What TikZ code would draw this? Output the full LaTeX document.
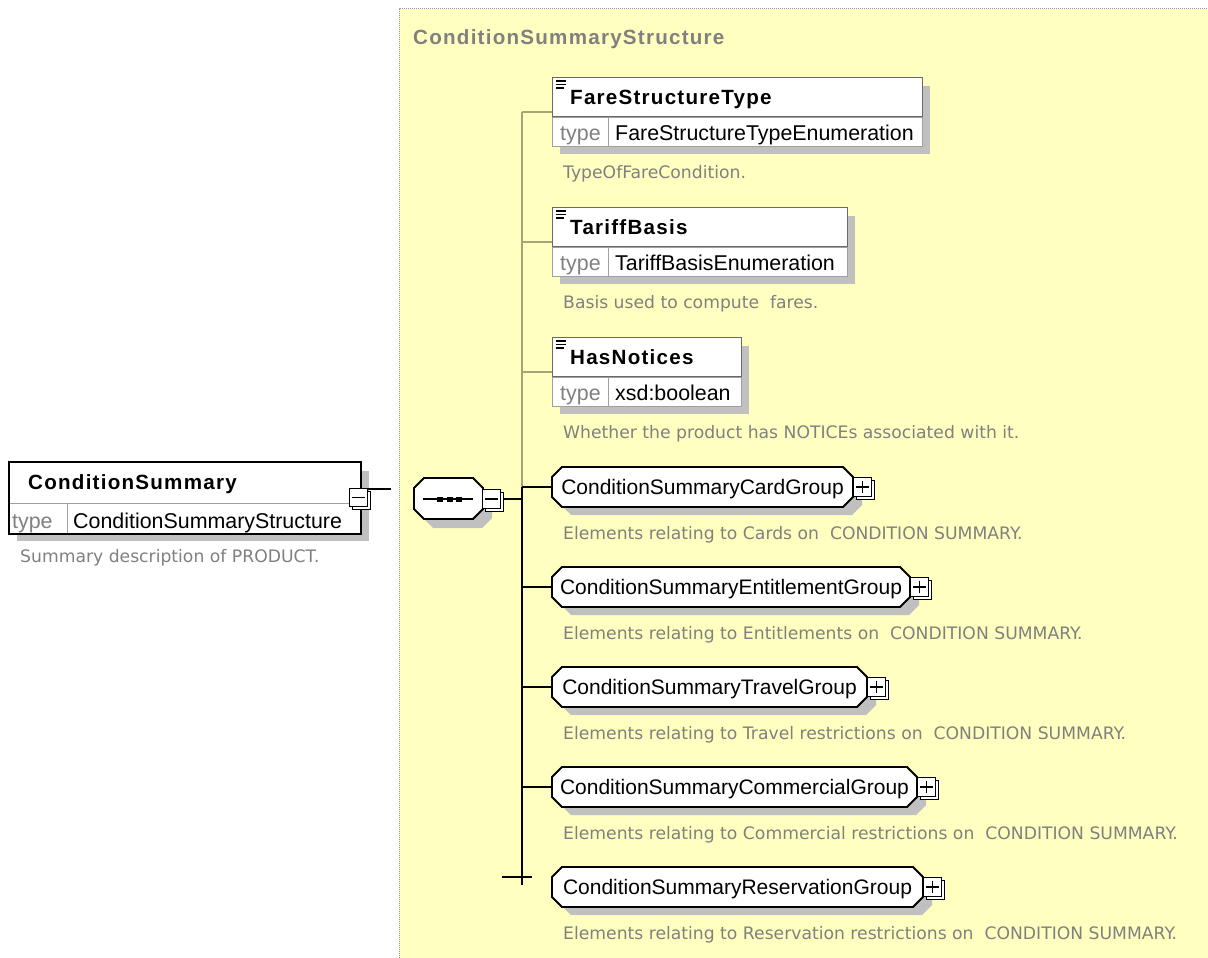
\documentclass[tikz,border=0pt]{standalone}
\usepackage{fontspec}
\setmainfont{Liberation Sans}
\newfontfamily\namefont[LetterSpace=6]{Liberation Sans}
\newfontfamily\descfont{DejaVu Sans}
\usetikzlibrary{calc}

\definecolor{panelfill}{RGB}{255,255,192}
\definecolor{panelrule}{RGB}{150,150,150}
\definecolor{shadowc}{RGB}{192,192,192}
\definecolor{softtext}{RGB}{128,128,128}
\definecolor{boxrule}{RGB}{105,105,105}
\definecolor{seprule}{RGB}{160,160,160}
\definecolor{attrlink}{RGB}{165,165,120}

\tikzset{
  txt/.style={inner sep=0pt, text depth=0pt, anchor=west},
  nametext/.style={txt, font=\namefont\bfseries\fontsize{20.6}{24}\selectfont, text height=14.8pt},
  titletext/.style={nametext, text=softtext},
  regtext/.style={txt, font=\fontsize{21.4}{25}\selectfont, text height=15.3pt},
  typetag/.style={regtext, text=softtext},
  desctext/.style={txt, font=\descfont\fontsize{17.2}{20}\selectfont, text height=12.5pt, text=softtext},
  grplabel/.style={inner sep=0pt, text depth=0pt, text height=15pt,
    font=\fontsize{21}{25}\selectfont, minimum height=40pt},
  elrow/.style={rectangle, draw=boxrule, fill=white, line width=1pt, inner sep=0pt},
  expbox/.style={rectangle, draw=black, fill=white, line width=1.4pt,
    minimum width=18.5pt, minimum height=18.5pt, inner sep=0pt},
  expplus/.style={path picture={\draw[line width=1.4pt]
      ([xshift=3pt]path picture bounding box.west) -- ([xshift=-3pt]path picture bounding box.east)
      ([yshift=-3pt]path picture bounding box.north) -- ([yshift=3pt]path picture bounding box.south);}},
  expminus/.style={path picture={\draw[line width=1.4pt]
      ([xshift=3pt]path picture bounding box.west) -- ([xshift=-3pt]path picture bounding box.east);}},
  grpline/.style={draw=black, fill=white, line width=1.8pt},
  link/.style={draw=black, line width=1.8pt},
  attr/.style={draw=attrlink, line width=1.1pt},
}

% chamfered outline: left, right, top, bottom, path options
\newcommand\octpath[5]{%
  \path[#5] ({#1+10},{#3}) -- ({#2-10},{#3}) -- ({#2},{#3+10}) -- ({#2},{#4-10})
    -- ({#2-10},{#4}) -- ({#1+10},{#4}) -- ({#1},{#4-10}) -- ({#1},{#3+10}) -- cycle;
}
% expand/collapse button: name, centre x, centre y, sign style
\newcommand\expbtn[4]{%
  \draw[line width=0.9pt, fill=white] ({#2-9.25+3},{#3-9.25+3}) rectangle ({#2+9.25+3},{#3+9.25+3});
  \node[expbox, #4] (#1) at ({#2},{#3}) {};
}
% model group: name, left, right, centre y, label
\newcommand\grpnode[5]{%
  \octpath{#2}{#3}{#4-20}{#4+20}{fill=shadowc, shift={(9,8)}}
  \octpath{#2}{#3}{#4-20}{#4+20}{grpline}
  \node[grplabel, minimum width={(#3-#2)*1pt}] (#1) at ({(#2+#3)/2},{#4}) {#5};
  \expbtn{#1x}{#3+9.5}{#4}{expplus}
}
% attribute element: name, left x, top y, width, label, type
\newcommand\elem[6]{%
  \fill[shadowc] ({#2+8},{#3+9}) rectangle ({#2+#4+8},{#3+77});
  \node[elrow, minimum width=#4pt, minimum height=39pt, anchor=north west] (#1) at (#2,#3) {};
  \node[elrow, draw=seprule, minimum width=#4pt, minimum height=29pt, anchor=north west] (#1-t) at (#1.south west) {};
  \draw[seprule, line width=1pt] ($(#1-t.north west)+(56,0)$) -- ($(#1-t.south west)+(56,0)$);
  \draw[line width=1.2pt] ($(#1.north west)+(4,4)$) -- ++(10,0)
     ($(#1.north west)+(4,7.5)$) -- ++(10,0) ($(#1.north west)+(4,11)$) -- ++(8,0);
  \node[nametext] (#1-n) at ($(#1.west)+(18,0)$) {#5};
  \node[typetag] (#1-k) at ($(#1-t.west)+(8,0.5)$) {type};
  \node[regtext] (#1-v) at ($(#1-t.west)+(63,0.5)$) {#6};
}

\begin{document}
\begin{tikzpicture}[x=1pt,y=-1pt]
\useasboundingbox (0,0) rectangle (1208,958);
\fill[white] (0,0) rectangle (1208,958);

% complex type panel
\fill[panelfill] (399,9) rectangle (1208,958);
\draw[panelrule, line width=1pt, dash pattern=on 1pt off 1pt] (399,958) -- (399,9) -- (1208,9);
\node[titletext] (title) at (413,37.5) {ConditionSummaryStructure};

% root element
\fill[shadowc] (17,471) rectangle (369,541);
\node[elrow, draw=none, minimum width=351pt, minimum height=40pt, anchor=north west] (cs) at (9,462) {};
\node[elrow, draw=none, minimum width=351pt, minimum height=30pt, anchor=north west] (cs-t) at (cs.south west) {};
\draw[seprule, line width=1pt] (cs-t.north west) -- (cs-t.north east)
  ($(cs-t.north west)+(58,0)$) -- ($(cs-t.south west)+(58,0)$);
\draw[line width=1.8pt] (cs.north west) rectangle (cs-t.south east);
\node[nametext] (cs-n) at ($(cs.west)+(19,0)$) {ConditionSummary};
\node[typetag] (cs-k) at ($(cs-t.west)+(3,2)$) {type};
\node[regtext] (cs-v) at ($(cs-t.west)+(64,2)$) {ConditionSummaryStructure};
\node[desctext] (cs-d) at (20,556.5) {Summary description of PRODUCT.};
\expbtn{csx}{358.5}{497.5}{expminus}
\coordinate (cs-out) at (391,489);
\draw[link] (csx.east |- cs-out) -- (cs-out);

% sequence compositor
\octpath{414}{483}{478}{519}{fill=shadowc, shift={(9,9)}}
\octpath{414}{483}{478}{519}{grpline}
\node[inner sep=0pt, minimum width=69pt, minimum height=41pt] (seq) at (448.5,498.5) {};
\draw[line width=1.5pt] ($(seq.center)+(-25.5,0.5)$) -- ($(seq.center)+(24.5,0.5)$);
\foreach \dx in {-8.5,1.5,10.5}
  \fill ($(seq.center)+(\dx-3,-2)$) rectangle ++(6,5);
\expbtn{seqx}{491.5}{499}{expminus}

% trunk of the sequence
\coordinate (t-seq) at (522,499);
\coordinate (t-fst) at (522,112);
\coordinate (t-tb) at (522,242);
\coordinate (t-hn) at (522,372);
\coordinate (t-card) at (522,487);
\coordinate (t-ent) at (522,587);
\coordinate (t-trav) at (522,687);
\coordinate (t-comm) at (522,787);
\coordinate (t-end) at (522,885);
\coordinate (tick-l) at (502,877);
\coordinate (tick-r) at (532,877);
\draw[link] ($(seqx.east)+(3,0)$) -- (t-seq);
\draw[attr] (t-fst) -- (t-card);
\draw[link] (t-card) -- (t-end);
\draw[link] (tick-l) -- (tick-r);

% attribute elements
\elem{fst}{552}{77}{370}{FareStructureType}{FareStructureTypeEnumeration}
\node[desctext] (fst-d) at (563,172) {TypeOfFareCondition.};
\elem{tb}{552}{207}{295}{TariffBasis}{TariffBasisEnumeration}
\node[desctext] (tb-d) at (563,302) {Basis used to compute~ fares.};
\elem{hn}{552}{337}{189}{HasNotices}{xsd:boolean}
\node[desctext] (hn-d) at (563,432) {Whether the product has NOTICEs associated with it.};

\draw[attr] (t-fst) -- (t-fst -| fst.west);
\draw[attr] (t-tb) -- (t-tb -| tb.west);
\draw[attr] (t-hn) -- (t-hn -| hn.west);

% model groups
\grpnode{card}{552}{853}{487}{ConditionSummaryCardGroup}
\node[desctext] (card-d) at (563,533.5) {Elements relating to Cards on~ CONDITION SUMMARY.};
\grpnode{ent}{552}{910}{587}{ConditionSummaryEntitlementGroup}
\node[desctext] (ent-d) at (563,633.5) {Elements relating to Entitlements on~ CONDITION SUMMARY.};
\grpnode{trav}{552}{867}{687}{ConditionSummaryTravelGroup}
\node[desctext] (trav-d) at (563,733.5) {Elements relating to Travel restrictions on~ CONDITION SUMMARY.};
\grpnode{comm}{552}{917}{787}{ConditionSummaryCommercialGroup}
\node[desctext] (comm-d) at (563,833.5) {Elements relating to Commercial restrictions on~ CONDITION SUMMARY.};
\grpnode{resv}{552}{923}{887}{ConditionSummaryReservationGroup}
\node[desctext] (resv-d) at (563,933.5) {Elements relating to Reservation restrictions on~ CONDITION SUMMARY.};

\draw[link] (t-card) -- (card.west);
\draw[link] (t-ent) -- (ent.west);
\draw[link] (t-trav) -- (trav.west);
\draw[link] (t-comm) -- (comm.west);
\end{tikzpicture}
\end{document}
